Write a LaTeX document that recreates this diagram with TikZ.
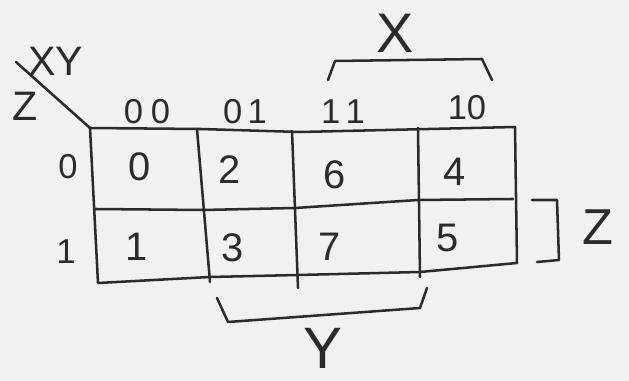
\documentclass[tikz,border=0pt]{standalone}
\usepackage{fontspec}
\setmainfont{Liberation Sans}
\usetikzlibrary{positioning}
\definecolor{paper}{HTML}{F1F1F1}
\definecolor{ink}{HTML}{2B2B2B}

\begin{document}
\begin{tikzpicture}[x=0.0264583cm, y=-0.0264583cm,
    pen/.style={ink, line width=1.9pt, line join=round, line cap=round},
    digit/.style={ink, inner sep=0pt, font=\fontsize{30}{32}\selectfont},
    hdr/.style={ink, inner sep=0pt, font=\fontsize{26}{28}\selectfont}]
  \fill[paper] (0,0) rectangle (629,381);
  \useasboundingbox (0,0) rectangle (629,381);

  % corner label
  \draw[pen] (16,62) -- (90,128);
  \node[ink, inner sep=0pt, font=\fontsize{31}{33}\selectfont] (xy) at (56,61) {XY};
  \node[ink, inner sep=0pt, font=\fontsize{31}{33}\selectfont] (zcorner) at (25,106) {Z};

  % column headings
  \node[hdr] (h00) at (147,112) {0\kern6pt0};
  \node[hdr] (h01) at (245,112) {0\kern4pt1};
  \node[hdr] (h11) at (343,112) {1\kern4pt1};
  \node[hdr] (h10) at (467,108) {10};

  % row headings
  \node[hdr] (r0) at (68,167) {0};
  \node[hdr] (r1) at (66,252) {1};

  % outline and cell walls
  \draw[pen] (90,128) -- (200,129) -- (300,132) -- (515,127)
    -- (517,263) -- (420,272) -- (298,275) -- (210,277) -- (98,283) -- cycle;
  \draw[pen] (95,209) -- (203,210) -- (295,208) -- (418,200) -- (513,199);
  \draw[pen] (197,129) -- (210,282);
  \draw[pen] (292,131) -- (298,288);
  \draw[pen] (418,128) -- (420,277);

  % cell numbers
  \node[digit] (c0) at (140,167) {0};
  \node[digit] (c2) at (230,170) {2};
  \node[digit] (c6) at (335,175) {6};
  \node[digit] (c4) at (455,172) {4};
  \node[digit] (c1) at (137,247) {1};
  \node[digit] (c3) at (233,248) {3};
  \node[digit] (c7) at (330,247) {7};
  \node[digit] (c5) at (448,238) {5};

  % brackets with their variables
  \draw[pen] (328,80) -- (335,61) -- (482,59) -- (492,80);
  \node[ink, inner sep=0pt, font=\fontsize{42}{44}\selectfont] (xvar) at (395,33) {X};

  \draw[pen] (532,200) -- (557,200) -- (559,260) -- (537,262);
  \node[ink, inner sep=0pt, font=\fontsize{38}{40}\selectfont] (zvar) at (598,227) {Z};

  \draw[pen] (217,298) -- (228,322) -- (420,308) -- (427,288);
  \node[ink, inner sep=0pt, anchor=north, font=\fontsize{44}{46}\selectfont] (yvar) at (323,328) {Y};
\end{tikzpicture}
\end{document}
